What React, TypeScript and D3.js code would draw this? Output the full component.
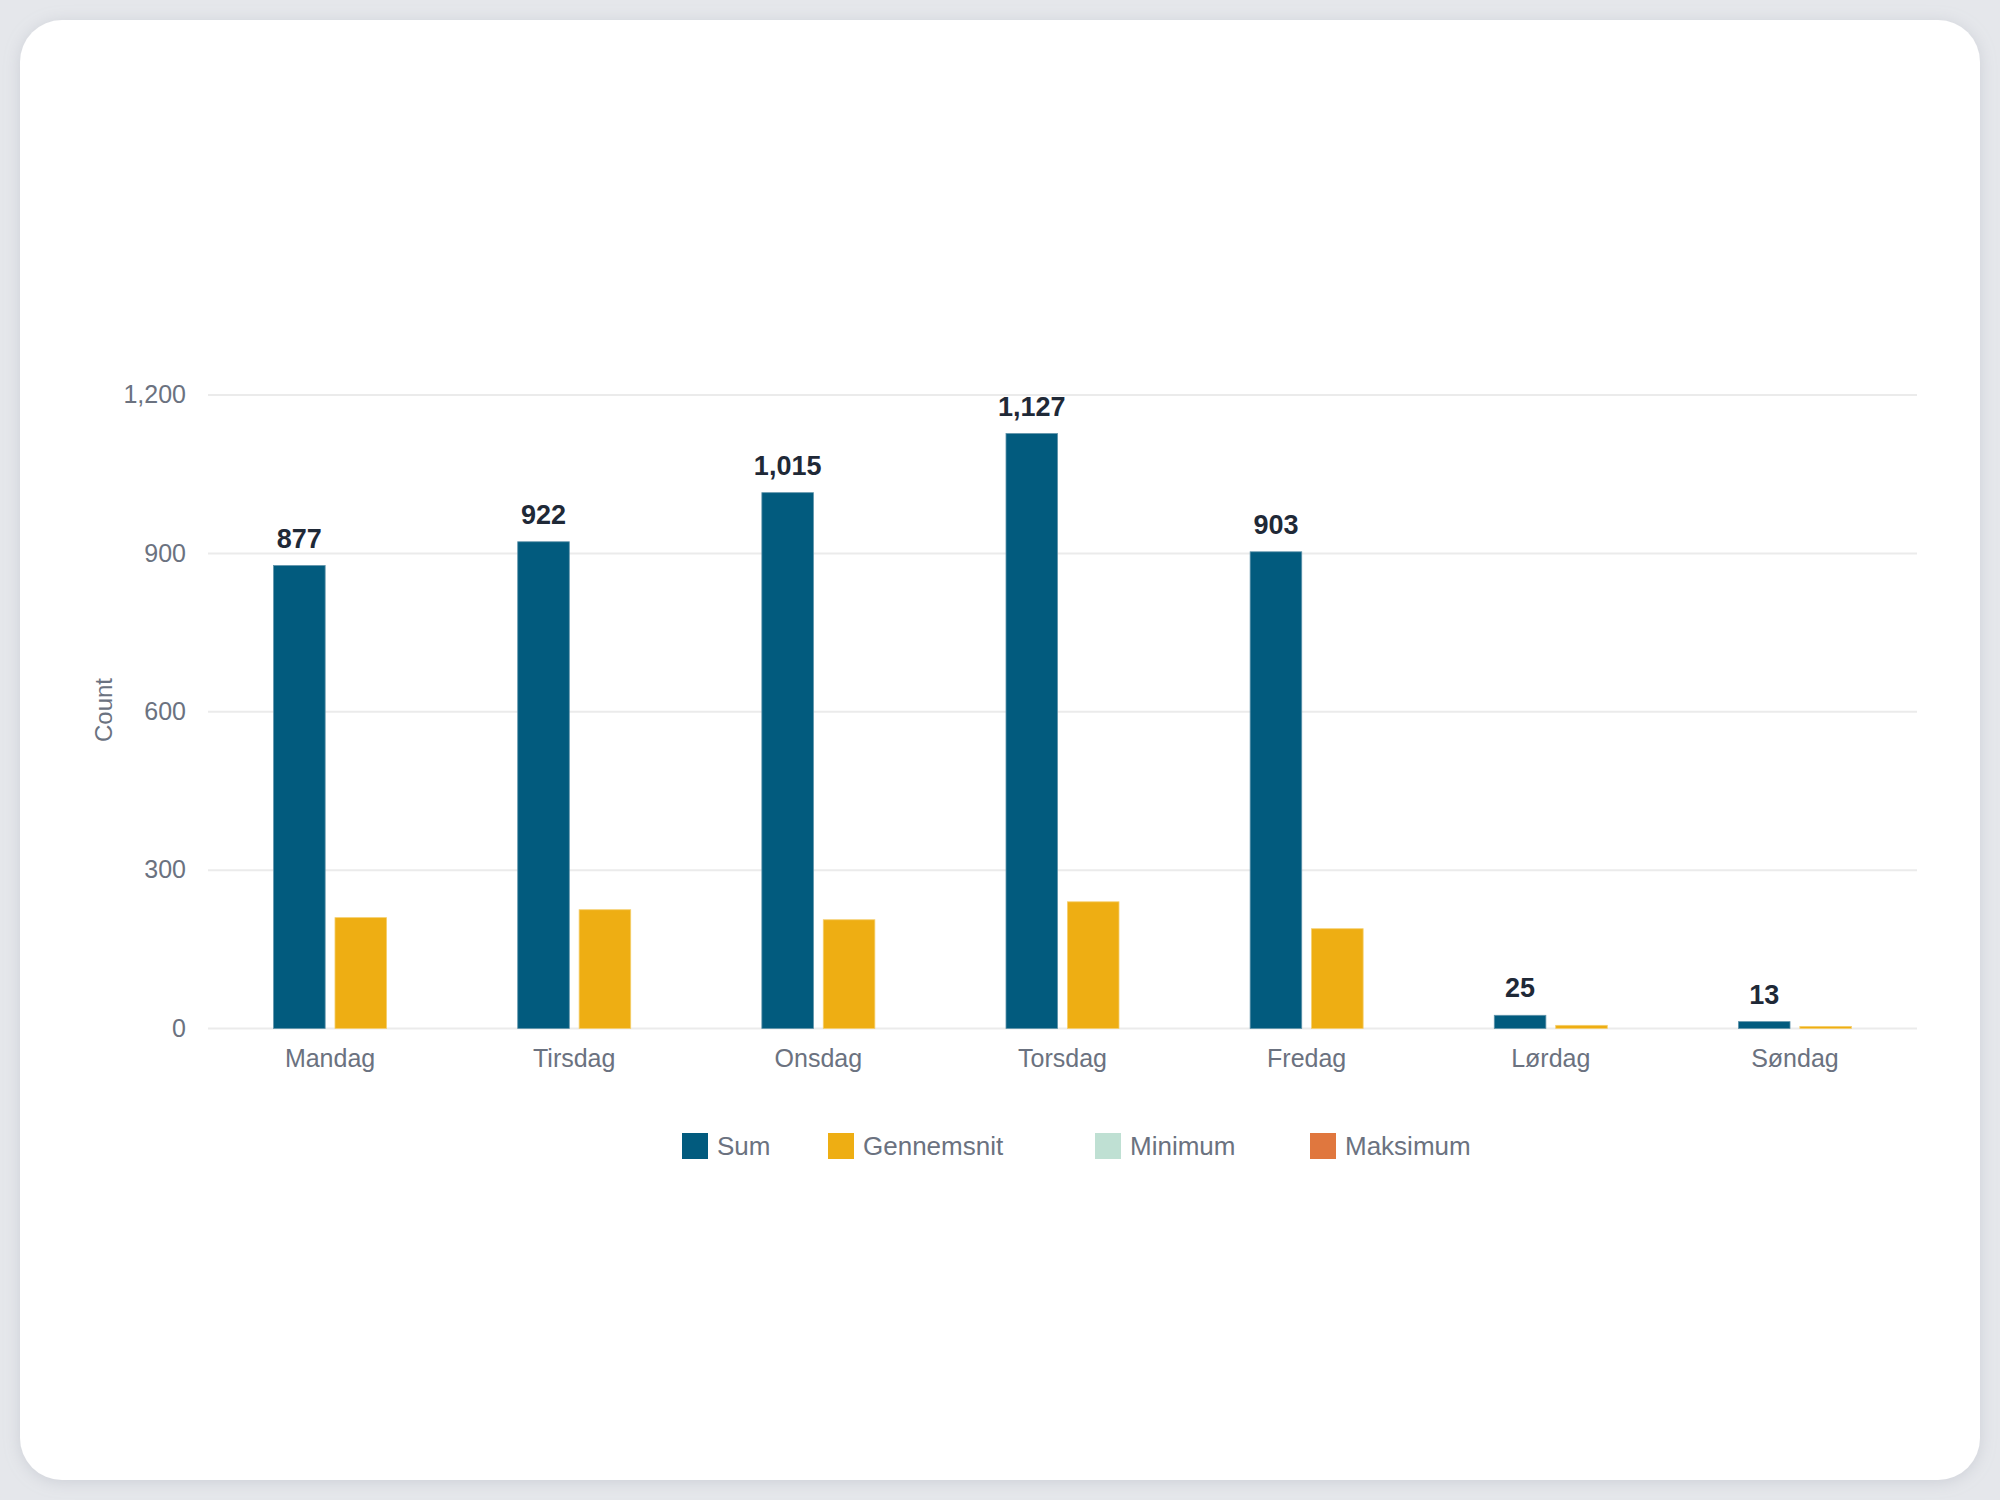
import React from 'react';
import * as d3 from 'd3';

const days = ['Mandag', 'Tirsdag', 'Onsdag', 'Torsdag', 'Fredag', 'Lørdag', 'Søndag'];
const sumValues = [877, 922, 1015, 1127, 903, 25, 13];
const avgValues = [210, 225, 206, 240, 189, 6, 4];
const yTicks = [0, 300, 600, 900, 1200];

const seriesNames = ['Sum', 'Gennemsnit', 'Minimum', 'Maksimum'];
const seriesColors = ['#025b7e', '#eeae13', '#bfe0d3', '#e0773e'];

const W = 2000;
const H = 1500;
const FONT = '"Liberation Sans", Arial, Helvetica, sans-serif';

const App: React.FC = () => {
  const x0 = d3.scaleBand<string>().domain(days).range([208, 1917]).paddingInner(0);
  const groupWidth = 113;
  const x1 = d3
    .scaleBand<string>()
    .domain(['Sum', 'Gennemsnit'])
    .range([0, groupWidth])
    .paddingInner(0.16);
  const y = d3.scaleLinear().domain([0, 1200]).range([1028.5, 395]);
  const fmt = d3.format(',');

  const rows = days.map((day, i) => ({ day, sum: sumValues[i], avg: avgValues[i] }));

  // legend items sit at fixed offsets along one row
  const legendX = [682, 828, 1095, 1310];

  return (
    <svg
      width={W}
      height={H}
      style={{ position: 'absolute', left: 0, top: 0, display: 'block' }}
      fontFamily={FONT}
    >
      <defs>
        <filter id="cardShadow" x="-5%" y="-5%" width="110%" height="110%">
          <feDropShadow dx="0" dy="2" stdDeviation="8" floodColor="#9ca3af" floodOpacity="0.35" />
        </filter>
      </defs>
      <rect x={0} y={0} width={W} height={H} fill="#e5e7eb" />
      <rect x={20} y={20} width={1960} height={1460} rx={42} fill="#ffffff" filter="url(#cardShadow)" />

      {/* grid */}
      {yTicks.map((t) => (
        <g key={t}>
          <line x1={208} x2={1917} y1={y(t)} y2={y(t)} stroke="#ebebeb" strokeWidth={2} />
          <text
            x={186}
            y={y(t)}
            dy="0.33em"
            textAnchor="end"
            fontSize={25}
            fill="#6b7280"
          >
            {fmt(t)}
          </text>
        </g>
      ))}

      <text
        transform={`translate(112, 710) rotate(-90)`}
        textAnchor="middle"
        fontSize={24}
        fill="#6b7280"
      >
        Count
      </text>

      {/* bars */}
      {rows.map((r) => {
        const gx = (x0(r.day) as number) + x0.bandwidth() / 2 - groupWidth / 2;
        const sx = gx + (x1('Sum') as number);
        const ax = gx + (x1('Gennemsnit') as number);
        return (
          <g key={r.day}>
            <rect
              x={sx}
              y={y(r.sum)}
              width={x1.bandwidth()}
              height={y(0) - y(r.sum)}
              fill={seriesColors[0]}
              stroke="#5f93aa"
              strokeWidth={0.8}
            />
            <rect
              x={ax}
              y={y(r.avg)}
              width={x1.bandwidth()}
              height={y(0) - y(r.avg)}
              fill={seriesColors[1]}
              stroke="#f5cf6e"
              strokeWidth={0.8}
            />
            <text
              x={sx + x1.bandwidth() / 2}
              y={y(r.sum) - 18}
              textAnchor="middle"
              fontSize={27}
              fontWeight="bold"
              fill="#1f2937"
            >
              {fmt(r.sum)}
            </text>
            <text
              x={(x0(r.day) as number) + x0.bandwidth() / 2}
              y={1067}
              textAnchor="middle"
              fontSize={25}
              fill="#6b7280"
            >
              {r.day}
            </text>
          </g>
        );
      })}

      {/* legend */}
      {seriesNames.map((name, i) => (
        <g key={name} transform={`translate(${legendX[i]}, 1133)`}>
          <rect width={26} height={26} fill={seriesColors[i]} />
          <text x={35} y={13} dy="0.36em" fontSize={26} fill="#6b7280">
            {name}
          </text>
        </g>
      ))}
    </svg>
  );
};

export default App;
